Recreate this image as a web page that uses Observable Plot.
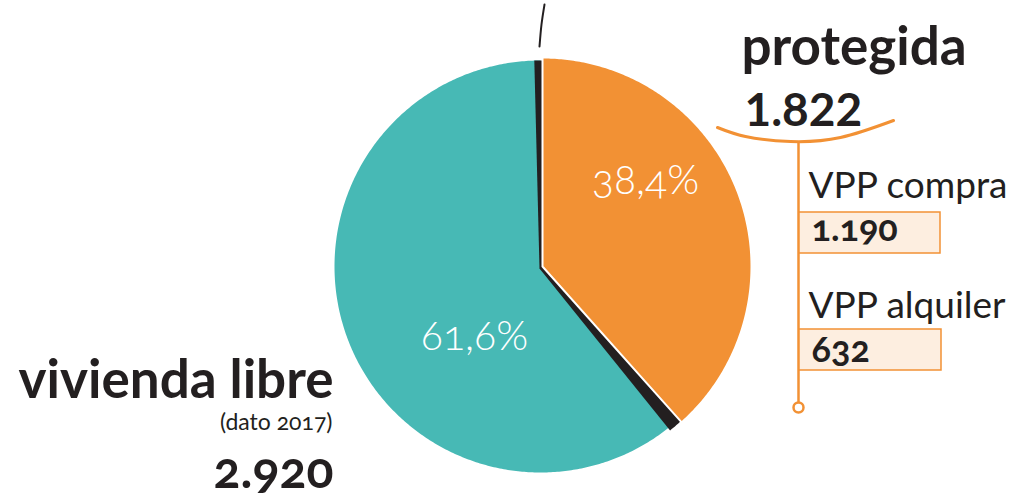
<!DOCTYPE html>
<html>
<head>
<meta charset="utf-8">
<script src="https://cdn.jsdelivr.net/npm/d3@7"></script>
<script src="https://cdn.jsdelivr.net/npm/@observablehq/plot@0.6"></script>
<style>
  html, body { margin: 0; padding: 0; background: #fff; }
  #chart svg { display: block; }
</style>
</head>
<body>
<div id="chart"></div>
<script>
// ---- data ----
const categories = ["protegida", "vivienda libre"];
const values = [1822, 2920];
const shares = [38.4, 61.6];
const colors = ["#f29134", "#47b9b5"];
const subCategories = ["VPP compra", "VPP alquiler"];
const subValues = [1190, 632];
const note = "(dato 2017)";

// ---- formatting ----
const es = d3.formatLocale({decimal: ",", thousands: ".", grouping: [3], currency: ["", " €"]});
const fmtInt = es.format(",d");
const fmtPct = v => es.format(".1f")(v) + "%";

// ---- layout (pixels) ----
const W = 1032, H = 504;
const cx = 540, cy = 266, R = 206;

const pie = d3.pie().sort(null).value(d => d)(shares);

function slicePoints(name, a0, a1, r, ox = 0, oy = 0) {
  const pts = [{name, x: cx + ox, y: cy + oy}];
  const n = Math.max(8, Math.ceil((a1 - a0) / 0.01));
  for (let i = 0; i <= n; i++) {
    const a = a0 + (a1 - a0) * i / n;
    pts.push({name, x: cx + ox + r * Math.sin(a), y: cy + oy - r * Math.cos(a)});
  }
  pts.push({name, x: cx + ox, y: cy + oy});
  return pts;
}

const orangeArc = pie[0], tealArc = pie[1];
const tealPts = slicePoints(categories[1], tealArc.startAngle, tealArc.endAngle, R);
const shadowPts = slicePoints("shadow", orangeArc.startAngle - 0.025, orangeArc.endAngle + 0.05, R + 2, -1, 2);
const orangePts = slicePoints(categories[0], orangeArc.startAngle, orangeArc.endAngle, R + 3, 2, 0);

const dark = "#231f20";
const orange = colors[0];
const font = "Lato";
const onum = "oldstyle-nums";

const underline = [
  {x: 717, y: 127}, {x: 745, y: 136}, {x: 790, y: 141}, {x: 840, y: 137}, {x: 893, y: 120}
];
const curl = [{x: 544, y: 4}, {x: 541, y: 24}, {x: 539, y: 46}];

const boxes = [
  {x1: 799, x2: 940, y1: 212, y2: 253, label: fmtInt(subValues[0]), title: subCategories[0], ty: 197, ly: 240},
  {x1: 799, x2: 941, y1: 329, y2: 370, label: fmtInt(subValues[1]), title: subCategories[1], ty: 317, ly: 361}
];

const pctLabels = [
  {x: 645, y: 193, text: fmtPct(shares[0])},
  {x: 474, y: 349, text: fmtPct(shares[1])}
];

const chart = Plot.plot({
  width: W, height: H,
  margin: 0,
  style: {fontFamily: font},
  x: {domain: [0, W], range: [0, W], axis: null},
  y: {domain: [0, H], range: [0, H], axis: null},
  marks: [
    Plot.line(curl, {x: "x", y: "y", curve: "natural", stroke: dark, strokeWidth: 2}),
    Plot.line(tealPts, {x: "x", y: "y", fill: colors[1], stroke: "none"}),
    Plot.line(shadowPts, {x: "x", y: "y", fill: dark, stroke: "none"}),
    Plot.line(orangePts, {x: "x", y: "y", fill: colors[0], stroke: "#fff", strokeWidth: 2}),
    Plot.text(pctLabels, {x: "x", y: "y", text: "text", fill: "#fff", fontSize: 41, fontWeight: 300, lineAnchor: "bottom", textAnchor: "middle", fontVariant: onum}),
    // protegida block
    Plot.text([categories[0]], {x: 741, y: 64, text: d => d, fill: dark, fontSize: 53, fontWeight: 700, lineAnchor: "bottom", textAnchor: "start"}),
    Plot.text([values[0]], {x: 744, y: 125, text: d => fmtInt(d), fill: dark, fontSize: 46, fontWeight: 700, lineAnchor: "bottom", textAnchor: "start", fontVariant: "lining-nums"}),
    Plot.line(underline, {x: "x", y: "y", curve: "natural", stroke: orange, strokeWidth: 3}),
    Plot.ruleX([798], {y1: 141, y2: 402, stroke: orange, strokeWidth: 2.5}),
    Plot.dot([0], {x: 798, y: 407, r: 5, stroke: orange, strokeWidth: 2.5, fill: "#fff"}),
    Plot.rect(boxes, {x1: "x1", x2: "x2", y1: "y1", y2: "y2", fill: "#fdeee0", stroke: orange, strokeWidth: 1.5}),
    Plot.text(boxes, {x: 808, y: "ty", text: "title", fill: dark, fontSize: 37, fontWeight: 400, lineAnchor: "bottom", textAnchor: "start"}),
    Plot.text(boxes, {x: 811, y: "ly", text: "label", fill: dark, fontSize: 36, fontWeight: 700, lineAnchor: "bottom", textAnchor: "start", fontVariant: onum}),
    // vivienda libre block
    Plot.text([categories[1]], {x: 333, y: 397, text: d => d, fill: dark, fontSize: 53, fontWeight: 700, lineAnchor: "bottom", textAnchor: "end"}),
    Plot.text([note], {x: 332, y: 429, text: d => d, fill: dark, fontSize: 23, fontWeight: 400, lineAnchor: "bottom", textAnchor: "end", fontVariant: onum}),
    Plot.text([values[1]], {x: 333, y: 487, text: d => fmtInt(d), fill: dark, fontSize: 50, fontWeight: 700, lineAnchor: "bottom", textAnchor: "end", fontVariant: onum})
  ]
});
document.getElementById("chart").appendChild(chart);
</script>
</body>
</html>
